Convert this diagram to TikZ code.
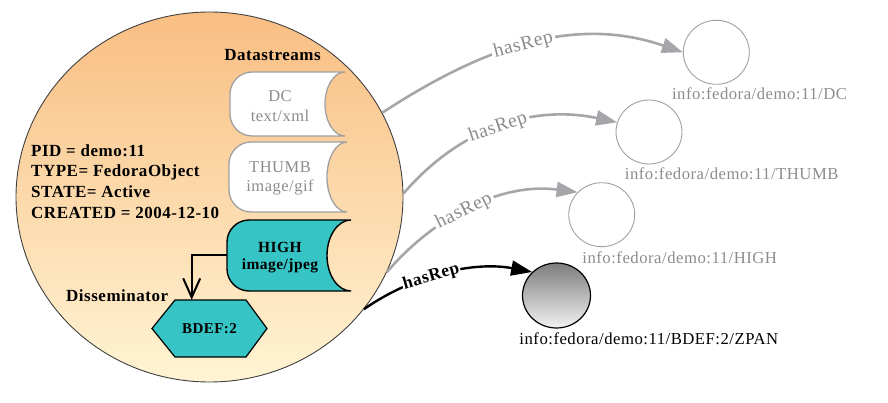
\documentclass[tikz,border=0pt]{standalone}
\usepackage{fontspec}
\setmainfont{Liberation Serif}[LetterSpace=3]
\usetikzlibrary{shapes.geometric,arrows.meta}
\definecolor{edgegray}{RGB}{166,166,170}
\definecolor{txtgray}{RGB}{140,140,140}
\definecolor{boxgray}{RGB}{160,160,160}
\definecolor{tealfill}{RGB}{54,196,196}
\definecolor{orangetop}{RGB}{249,190,130}
\definecolor{orangebot}{RGB}{255,244,212}
\definecolor{rimgray}{RGB}{64,64,64}
% datastream outline: L T R B rx
\newcommand\dsPath[5]{(#3,#2) -- ({#1+22},#2) .. controls ({#1+10},#2) and (#1,{#2+10}) .. (#1,{#2+22}) -- (#1,{#4-22}) .. controls (#1,{#4-10}) and ({#1+10},#4) .. ({#1+22},#4) -- (#3,#4) .. controls ({#3-0.55*#5},#4) and ({#3-#5},{(#2+#4)/2+0.275*(#4-#2)}) .. ({#3-#5},{(#2+#4)/2}) .. controls ({#3-#5},{(#2+#4)/2-0.275*(#4-#2)}) and ({#3-0.55*#5},#2) .. (#3,#2) -- cycle}
\begin{document}
\begin{tikzpicture}[x=1pt,y=-1pt,
  objshape/.style={ellipse, draw=rimgray, line width=0.9pt, top color=orangetop, bottom color=orangebot, minimum width=387pt, minimum height=370pt, inner sep=0pt},
  dsplain/.style={draw=boxgray, line width=1.3pt, fill=white},
  dshigh/.style={draw=black, line width=1.4pt, fill=tealfill},
  dstext/.style={align=center, text=txtgray, inner sep=0pt, minimum width=106pt},
  dshightext/.style={align=center, font=\fontsize{15.5}{17}\selectfont\bfseries, inner sep=0pt, minimum width=106pt},
  boldlab/.style={font=\fontsize{17}{20}\selectfont\bfseries, inner sep=0pt},
  pidtxt/.style={anchor=base west, font=\fontsize{17}{20}\selectfont\bfseries, inner sep=0pt},
  hexstyle/.style={draw=black, line width=1.2pt, fill=tealfill, line join=miter},
  repcircle/.style={ellipse, draw=boxgray, line width=0.9pt, minimum width=66pt, minimum height=64pt, inner sep=0pt},
  zpancircle/.style={ellipse, draw=black, line width=1.2pt, top color={rgb,255:red,125;green,125;blue,125}, bottom color={rgb,255:red,242;green,242;blue,242}, minimum width=68pt, minimum height=65pt, inner sep=0pt},
  replabtxt/.style={anchor=base, font=\fontsize{16.7}{20}\selectfont, inner sep=0pt, text=txtgray},
  repedge/.style={draw=edgegray, line width=2.6pt, -{Triangle[length=21pt,width=15pt]}},
  zpanedge/.style={draw=black, line width=2.4pt, -{Triangle[length=21pt,width=15pt]}},
  replabel/.style={sloped, fill=white, inner sep=2.5pt, text=txtgray, font=\fontsize{19.5}{20}\selectfont},
  zpanlabel/.style={sloped, fill=white, inner sep=1pt, text=black, font=\fontsize{17.5}{20}\selectfont\bfseries},
  dissarrow/.style={draw=black, line width=2pt, -{Straight Barb[length=19pt,width=17pt]}}
]
\useasboundingbox (0,0) rectangle (888,403);

% digital object
\node[objshape] (obj) at (209.5,197) {};

\node[boldlab, anchor=base] (dslabel) at (272.5,60.7) {Datastreams};

% datastreams
\draw[dsplain] \dsPath{230}{72}{345}{136}{20};
\node[dstext, font=\fontsize{16.5}{20.7}\selectfont] (dc) at (280,106) {DC\\text/xml};
\draw[dsplain] \dsPath{229}{142}{347}{212}{20};
\node[dstext, font=\fontsize{16.5}{18.5}\selectfont] (thumb) at (280,178.5) {THUMB\\image/gif};
\draw[dshigh] \dsPath{227}{220}{351}{291}{24};
\node[dshightext] (high) at (280,258) {HIGH\\image/jpeg};

% properties
\node[pidtxt] (pid) at (31,156.7) {PID = demo:11};
\node[pidtxt] (type) at (31,177) {TYPE= FedoraObject};
\node[pidtxt] (state) at (31,197.8) {STATE= Active};
\node[pidtxt] (created) at (31,219) {CREATED = 2004-12-10};

% disseminator
\node[boldlab, anchor=base west] (disslabel) at (66,301.7) {Disseminator};
\draw[hexstyle] (152,328.5) -- (175,300) -- (246,300) -- (267,328.5) -- (246,357) -- (175,357) -- cycle;
\node[minimum width=115pt, minimum height=57pt, inner sep=0pt, font=\fontsize{15}{17}\selectfont\bfseries] (diss) at (209.5,328.5) {BDEF:2};
\draw[dissarrow] ([yshift=3pt]high.west) -| ([xshift=-17.8pt]diss.north);

% representations
\node[repcircle] (dcr) at (716.3,52.3) {};
\node[replabtxt] (dcrlab) at (759.5,99.5) {info:fedora/demo:11/DC};
\node[repcircle] (thumbr) at (649,132) {};
\node[replabtxt] (thumbrlab) at (731.7,179.3) {info:fedora/demo:11/THUMB};
\node[repcircle] (highr) at (601.7,214.7) {};
\node[replabtxt] (highrlab) at (679.7,263.3) {info:fedora/demo:11/HIGH};
\node[zpancircle] (zpan) at (556.5,295.5) {};
\node[replabtxt, text=black] (zpanlab) at (648.8,344.5) {info:fedora/demo:11/BDEF:2/ZPAN};

% hasRep relations
\draw[repedge] (obj.26) .. controls (492,41) and (580,17) .. (dcr.west) node[replabel, pos=0.46] {hasRep};
\draw[repedge] (obj.1) .. controls (458,130) and (530,104) .. (thumbr.163) node[replabel, pos=0.5] {hasRep};
\draw[repedge] (obj.337) .. controls (432.5,218.8) and (499,182) .. (highr.137) node[replabel, pos=0.47] {hasRep};
\draw[zpanedge] (obj.324) .. controls (413.6,274.6) and (474,261) .. (zpan.136) node[zpanlabel, pos=0.42] {hasRep};
\end{tikzpicture}
\end{document}
